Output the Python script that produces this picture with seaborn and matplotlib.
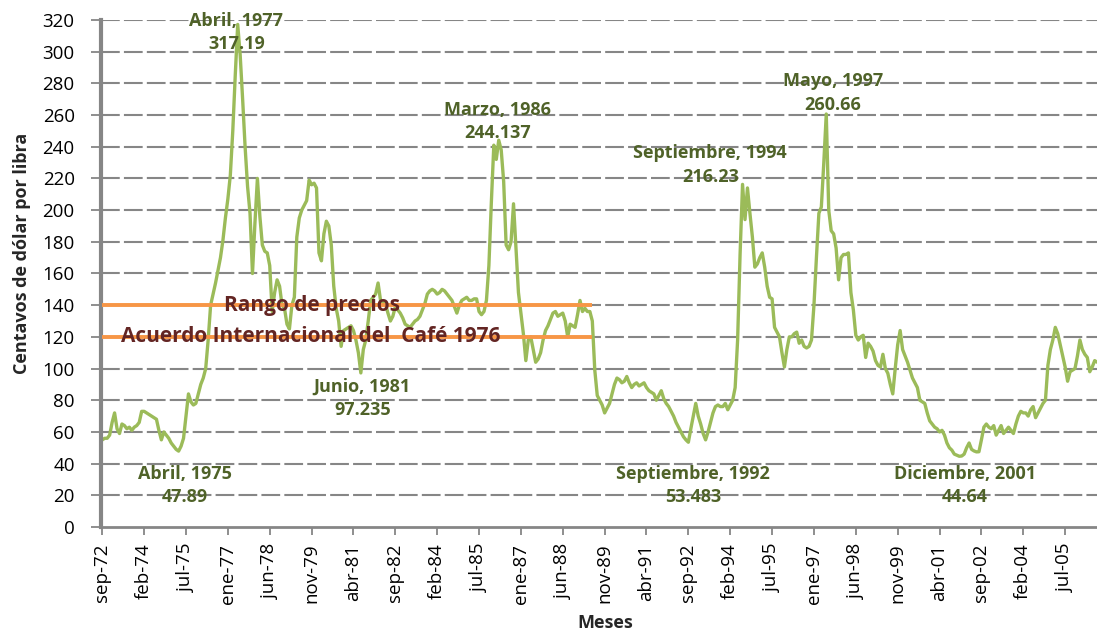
import numpy as np
import pandas as pd
import matplotlib
matplotlib.use("Agg")
import matplotlib.pyplot as plt
import seaborn as sns

# precio mensual del cafe (centavos de dolar por libra), desde sep-72
precios_72_77 = [55, 56, 56, 58, 66, 72, 62, 59, 65, 64, 62, 63,
                 61, 63, 64, 66, 73, 73, 72, 71, 70, 69, 68, 61,
                 55, 60, 58, 56, 53, 51, 49, 47.89, 51, 56, 70, 84,
                 79, 77, 78, 84, 90, 94, 100, 118, 140, 147, 154, 162,
                 170, 181, 195, 207, 222, 250, 285, 317.19, 298, 270, 240, 215]
precios_77_82 = [198, 160, 192, 220, 196, 178, 174, 173, 165, 136, 148, 156,
                 152, 140, 138, 128, 125, 140, 145, 183, 195, 200, 203, 206,
                 219, 216, 217, 214, 173, 168, 185, 193, 190, 178, 152, 138,
                 130, 114, 124, 125, 126, 127, 124, 118, 110, 97.235, 112, 118,
                 130, 143, 145, 147, 154, 143, 142, 141, 135, 130, 133, 139]
precios_82_87 = [137, 135, 132, 128, 127, 126, 128, 130, 131, 133, 137, 141,
                 147, 149, 150, 149, 147, 148, 150, 149, 147, 145, 143, 139,
                 135, 140, 143, 144, 145, 143, 143, 144, 144, 136, 134, 136,
                 143, 165, 205, 241, 232, 244.137, 238, 218, 178, 175, 180, 204,
                 176, 148, 135, 122, 105, 118, 120, 112, 104, 106, 110, 118]
precios_87_92 = [124, 127, 131, 135, 136, 133, 134, 135, 130, 120, 128, 127,
                 126, 134, 143, 136, 138, 136, 136, 130, 99, 83, 80, 77,
                 72, 75, 78, 84, 90, 94, 93, 91, 92, 95, 91, 88,
                 90, 91, 89, 90, 91, 88, 86, 85, 84, 80, 83, 86,
                 81, 78, 76, 73, 70, 66, 63, 60, 57, 55, 53.483, 62]
precios_92_97 = [70, 78, 70, 65, 59, 55, 60, 66, 72, 76, 77, 76,
                 76, 78, 74, 77, 80, 88, 118, 172, 216.23, 194, 214, 198,
                 183, 164, 166, 170, 173, 164, 152, 145, 144, 126, 123, 120,
                 110, 101, 112, 120, 120, 122, 123, 116, 118, 114, 113, 114,
                 118, 140, 170, 198, 202, 230, 260.66, 200, 187, 185, 176, 156]
precios_97_02 = [170, 172, 172, 173, 148, 137, 121, 118, 120, 121, 107, 116,
                 114, 111, 105, 102, 101, 109, 100, 97, 90, 84, 100, 115,
                 124, 112, 108, 104, 99, 94, 91, 88, 80, 79, 78, 72,
                 67, 65, 63, 62, 60, 61, 58, 53, 50, 48.5, 46, 45.3,
                 44.64, 44.8, 46, 50, 53, 49, 48, 47.4, 47.5, 55, 63, 65]
precios_02_06 = [63, 62, 64, 58, 61, 64, 59, 61, 63, 61, 59, 65,
                 70, 73, 72, 72, 70, 74, 76, 69, 72, 75, 78, 80,
                 102, 112, 118, 126, 122, 115, 108, 101, 92, 98, 99, 100,
                 108, 118, 112, 109, 107, 98, 101, 105, 104]

etiquetas_meses = ["sep-72", "feb-74", "jul-75", "ene-77", "jun-78", "nov-79",
                   "abr-81", "sep-82", "feb-84", "jul-85", "ene-87", "jun-88",
                   "nov-89", "abr-91", "sep-92", "feb-94", "jul-95", "ene-97",
                   "jun-98", "nov-99", "abr-01", "sep-02", "feb-04", "jul-05",
                   "ene-07"]
paso_etiquetas = 17

# rango de precios del Acuerdo Internacional del Cafe 1976
rango_precios = [120, 140]
rango_fin = 199

# picos y valles anotados
anotaciones_mes = [54.5, 33.7, 105.6, 160.4, 239.8, 246.9, 296.8, 350.4]
anotaciones_texto = ["Abril, 1977\n317.19", "Abril, 1975\n47.89",
                     "Junio, 1981\n97.235", "Marzo, 1986\n244.137",
                     "Septiembre, 1992\n53.483", "Septiembre, 1994\n216.23",
                     "Mayo, 1997\n260.66", "Diciembre, 2001\n44.64"]
anotaciones_y = [312, 26.2, 81, 256, 26.2, 228.5, 274, 26.2]

precios = (precios_72_77 + precios_77_82 + precios_82_87 + precios_87_92
           + precios_92_97 + precios_97_02 + precios_02_06)
df = pd.DataFrame({"mes": np.arange(len(precios)), "precio": precios})

sns.set_style("white")
plt.rcParams["font.family"] = ["Open Sans", "DejaVu Sans"]

fig = plt.figure(figsize=(10.97, 6.35), dpi=100)
ax = fig.add_axes([0.0921, 0.1701, 0.926, 0.7984])

gris = "#868686"
verde = "#9BBB59"
oliva = "#4F6228"

# lineas de cuadricula
for v in range(20, 321, 20):
    ax.axhline(v, color=gris, lw=1.5, dashes=(9, 2), zorder=0)

sns.lineplot(data=df, x="mes", y="precio", color=verde, lw=2.4, ax=ax,
             zorder=2, clip_on=False)

for v in rango_precios:
    ax.plot([0, rango_fin], [v, v], color="#F79646", lw=2.8, zorder=3,
            solid_capstyle="butt")

ax.text(85, 139.5, "Rango de precios", color="#632523", fontsize=15,
        fontweight="bold", ha="center", va="center", zorder=4)
ax.text(84.5, 120.5, "Acuerdo Internacional del  Café 1976", color="#632523",
        fontsize=15, fontweight="bold", ha="center", va="center", zorder=4)

for m, t, y in zip(anotaciones_mes, anotaciones_texto, anotaciones_y):
    ax.text(m, y, t, color=oliva, fontsize=13, fontweight="bold",
            ha="center", va="center", linespacing=1.4, zorder=5)

ax.set_xlim(-0.5, 412)
ax.set_ylim(0, 320)
ax.set_yticks(range(0, 321, 20))
ax.set_xticks(np.arange(len(etiquetas_meses)) * paso_etiquetas)
ax.set_xticklabels(etiquetas_meses, rotation=90)
ax.tick_params(axis="both", labelsize=13.5, colors="black")
ax.tick_params(axis="y", length=7, width=1.3, color=gris, direction="out",
               left=True, pad=12)
ax.tick_params(axis="x", length=6, width=1.3, color=gris, direction="out",
               bottom=True, pad=6)

for s in ["top", "right"]:
    ax.spines[s].set_visible(False)
ax.spines["left"].set_color(gris)
ax.spines["left"].set_linewidth(3)
ax.spines["bottom"].set_color(gris)
ax.spines["bottom"].set_linewidth(2)

ax.set_ylabel("Centavos de dólar por libra", fontsize=13, fontweight="bold")
ax.yaxis.set_label_coords(-0.069, 0.54)
ax.set_xlabel("Meses", fontsize=13, fontweight="bold")
ax.xaxis.set_label_coords(0.496, -0.172)

fig.savefig("out.png", dpi=100)
